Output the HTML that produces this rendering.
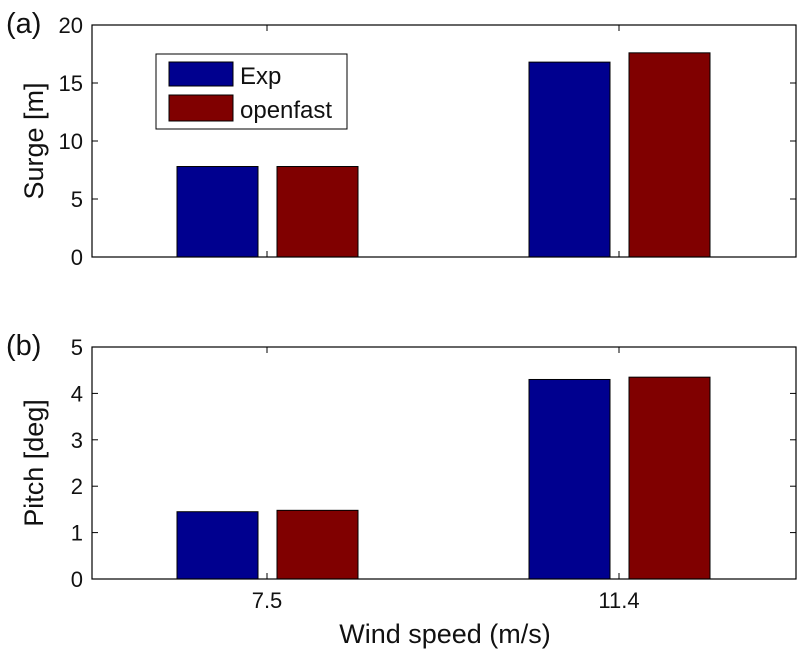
<!DOCTYPE html>
<html><head><meta charset="utf-8"><style>
body{margin:0;background:#fff}
svg text{font-family:"Liberation Sans",Arial,sans-serif;fill:#111}
</style></head><body>
<svg id="chart" width="807" height="655" viewBox="0 0 807 655" xmlns="http://www.w3.org/2000/svg"></svg>
<script>
const categories=["7.5","11.4"];
const surgeExp=[7.8,16.8];
const surgeOpenfast=[7.8,17.6];
const pitchExp=[1.45,4.3];
const pitchOpenfast=[1.48,4.35];
const surgeTicks=[0,5,10,15,20];
const pitchTicks=[0,1,2,3,4,5];

const NS="http://www.w3.org/2000/svg";
const svg=document.getElementById('chart');
function mk(tag,attrs,parent){const e=document.createElementNS(NS,tag);for(const k in attrs)e.setAttribute(k,attrs[k]);(parent||svg).appendChild(e);return e;}
const L=92,R=796;
const xCenters=[267,619];
function xPos(i){return xCenters[i];}
function panel(top,bot,ymax,ticks,s1,s2,ylabel,tag,name,showX){
  const g=mk('g',{});
  
  
  const y=v=>bot-(v/ymax)*(bot-top);
  categories.forEach((c,i)=>{
    const b1=mk('rect',{x:xPos(i)-90,y:y(s1[i]),width:81,height:bot-y(s1[i]),fill:'#00008f',stroke:'#000','stroke-width':1},g);
    
    
    const b2=mk('rect',{x:xPos(i)+10,y:y(s2[i]),width:81,height:bot-y(s2[i]),fill:'#800000',stroke:'#000','stroke-width':1},g);
    
    
    mk('line',{x1:xPos(i),x2:xPos(i),y1:bot,y2:bot-6,stroke:'#000'},g);
    mk('line',{x1:xPos(i),x2:xPos(i),y1:top,y2:top+6,stroke:'#000'},g);
    if(showX){const t=mk('text',{x:xPos(i),y:bot+29,'text-anchor':'middle','font-size':22},g);t.textContent=c;
      }
  });
  ticks.forEach(v=>{
    mk('line',{x1:L,x2:L+6,y1:y(v),y2:y(v),stroke:'#000'},g);
    mk('line',{x1:R,x2:R-6,y1:y(v),y2:y(v),stroke:'#000'},g);
    const t=mk('text',{x:L-9,y:y(v)+8,'text-anchor':'end','font-size':22},g);t.textContent=v;
    
  });
  mk('rect',{x:L,y:top,width:R-L,height:bot-top,fill:'none',stroke:'#000','stroke-width':1.2},g);
  const yl=mk('text',{x:0,y:0,'text-anchor':'middle','font-size':27,transform:`translate(43,${(top+bot)/2}) rotate(-90)`},g);
  yl.textContent=ylabel;
  
  const pt=mk('text',{x:6,y:top+8,'font-size':29},g);pt.textContent=tag;
  
}
panel(25,257,20,surgeTicks,surgeExp,surgeOpenfast,'Surge [m]','(a)','surge-panel',false);
panel(347,579,5,pitchTicks,pitchExp,pitchOpenfast,'Pitch [deg]','(b)','pitch-panel',true);
const xt=mk('text',{x:445,y:643,'text-anchor':'middle','font-size':27});xt.textContent='Wind speed (m/s)';

const lg=mk('g',{});


mk('rect',{x:156,y:54,width:191,height:75,fill:'#fff',stroke:'#000'},lg);
mk('rect',{x:169,y:62,width:64,height:24,fill:'#00008f',stroke:'#000'},lg);
mk('rect',{x:169,y:95,width:64,height:26,fill:'#800000',stroke:'#000'},lg);
const l1=mk('text',{x:240,y:84,'font-size':24},lg);l1.textContent='Exp';

const l2=mk('text',{x:240,y:118,'font-size':24},lg);l2.textContent='openfast';

</script>
</body></html>
